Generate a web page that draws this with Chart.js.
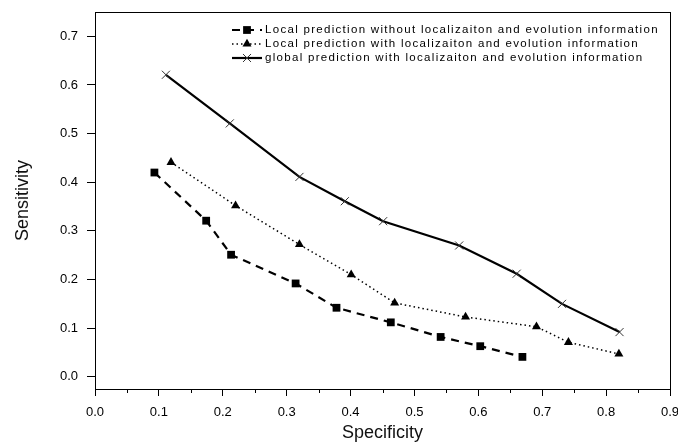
<!DOCTYPE html>
<html>
<head>
<meta charset="utf-8">
<script src="https://cdn.jsdelivr.net/npm/chart.js@4.4.1/dist/chart.umd.min.js"></script>
<style>
  html, body { margin: 0; padding: 0; background: #fff; }
  #wrap { width: 678px; height: 444px; }
</style>
</head>
<body>
<div id="wrap"><canvas id="myChart"></canvas></div>
<script>
  // tick values
  const xTicks = [0.0, 0.1, 0.2, 0.3, 0.4, 0.5, 0.6, 0.7, 0.8, 0.9];
  const xMinorTicks = [0.05, 0.15, 0.25, 0.35, 0.45, 0.55, 0.65, 0.75, 0.85];
  const yTicks = [0.0, 0.1, 0.2, 0.3, 0.4, 0.5, 0.6, 0.7];

  // Local prediction without localizaiton and evolution information
  const noLocX = [0.093, 0.174, 0.213, 0.314, 0.378, 0.463, 0.541, 0.603, 0.669];
  const noLocY = [0.420, 0.321, 0.251, 0.192, 0.142, 0.112, 0.082, 0.063, 0.041];

  // Local prediction with localizaiton and evolution information
  const locX = [0.119, 0.220, 0.320, 0.401, 0.469, 0.580, 0.691, 0.741, 0.820];
  const locY = [0.441, 0.352, 0.272, 0.210, 0.152, 0.123, 0.103, 0.071, 0.047];

  // global prediction with localizaiton and evolution information
  const globX = [0.111, 0.211, 0.320, 0.391, 0.451, 0.570, 0.660, 0.731, 0.821];
  const globY = [0.621, 0.521, 0.411, 0.361, 0.320, 0.270, 0.212, 0.150, 0.092];

  const labels = [
    'Local prediction without localizaiton and evolution information',
    'Local prediction with localizaiton and evolution information',
    'global prediction with localizaiton and evolution information'
  ];

  const pts = (xs, ys) => xs.map((x, i) => ({ x: x, y: ys[i] }));

  // frame + minor ticks + legend inside the plot
  const framePlugin = {
    id: 'frame',
    afterDraw(chart) {
      const c = chart.ctx;
      const a = chart.chartArea;
      const xs = chart.scales.x;
      c.save();
      c.strokeStyle = '#000';
      c.lineWidth = 1;
      c.strokeRect(a.left + 0.5, a.top + 0.5, a.right - a.left, a.bottom - a.top);
      c.beginPath();
      xMinorTicks.forEach(v => {
        const px = Math.round(xs.getPixelForValue(v)) + 0.5;
        c.moveTo(px, a.bottom);
        c.lineTo(px, a.bottom + 4);
      });
      c.stroke();

      // legend
      chart.data.datasets.forEach((ds, i) => {
        const y = 30 + i * 14;
        c.strokeStyle = ds.borderColor;
        c.lineWidth = ds.borderWidth;
        c.setLineDash(ds.borderDash || []);
        c.beginPath();
        c.moveTo(232, y);
        c.lineTo(262, y);
        c.stroke();
        c.setLineDash([]);
        c.fillStyle = ds.pointBackgroundColor;
        c.strokeStyle = ds.pointBorderColor;
        c.lineWidth = ds.pointBorderWidth;
        Chart.helpers.drawPoint(c, {
          pointStyle: ds.pointStyle, radius: ds.pointRadius, borderWidth: ds.pointBorderWidth, rotation: 0
        }, 247, y);
        c.fillStyle = '#000';
        c.font = '11.5px "Liberation Sans", Arial, sans-serif';
        c.letterSpacing = '1.3px';
        c.textBaseline = 'middle';
        c.fillText(ds.label, 265, y);
      });
      c.restore();
    }
  };

  new Chart(document.getElementById('myChart'), {
    type: 'line',
    data: {
      datasets: [
        {
          label: labels[0],
          data: pts(noLocX, noLocY),
          borderColor: '#000',
          borderWidth: 2.2,
          borderDash: [8, 6],
          pointStyle: 'rect',
          pointRadius: 5.5,
          pointBackgroundColor: '#000',
          pointBorderColor: '#000',
          pointBorderWidth: 0
        },
        {
          label: labels[1],
          data: pts(locX, locY),
          borderColor: '#000',
          borderWidth: 1.5,
          borderDash: [1.5, 3],
          pointStyle: 'triangle',
          pointRadius: 5.2,
          pointBackgroundColor: '#000',
          pointBorderColor: '#000',
          pointBorderWidth: 0
        },
        {
          label: labels[2],
          data: pts(globX, globY),
          borderColor: '#000',
          borderWidth: 2.2,
          pointStyle: 'crossRot',
          pointRadius: 5.7,
          pointBackgroundColor: '#333',
          pointBorderColor: '#333',
          pointBorderWidth: 1
        }
      ]
    },
    options: {
      responsive: true,
      maintainAspectRatio: false,
      animation: false,
      layout: { padding: { top: 12, right: 8, left: 0, bottom: 0 } },
      plugins: {
        legend: { display: false },
        tooltip: { enabled: false }
      },
      scales: {
        x: {
          type: 'linear',
          min: 0,
          max: 0.9,
          afterBuildTicks: s => { s.ticks = xTicks.map(v => ({ value: v })); },
          afterFit: s => { s.height = 55; s.paddingLeft = 0; s.paddingRight = 0; },
          grid: { drawOnChartArea: false, drawTicks: true, tickLength: 7, color: '#000' },
          border: { display: true, color: '#000', width: 1 },
          ticks: {
            color: '#000',
            padding: 9,
            maxRotation: 0,
            font: { family: '"Liberation Sans", Arial, sans-serif', size: 13 },
            callback: v => v.toFixed(1)
          },
          title: {
            display: true,
            text: 'Specificity',
            color: '#111',
            padding: { top: 0, bottom: 0 },
            font: { family: '"Liberation Sans", Arial, sans-serif', size: 18 }
          }
        },
        y: {
          min: -0.025,
          max: 0.75,
          afterBuildTicks: s => { s.ticks = yTicks.map(v => ({ value: v })); },
          afterFit: s => { s.width = 95; s.paddingTop = 0; s.paddingBottom = 0; },
          grid: { drawOnChartArea: false, drawTicks: true, tickLength: 8, color: '#000' },
          border: { display: true, color: '#000', width: 1 },
          ticks: {
            color: '#000',
            padding: 9,
            font: { family: '"Liberation Sans", Arial, sans-serif', size: 13 },
            callback: v => v.toFixed(1)
          },
          title: {
            display: true,
            text: 'Sensitivity',
            color: '#111',
            padding: { top: 12, bottom: 0 },
            font: { family: '"Liberation Sans", Arial, sans-serif', size: 18 }
          }
        }
      }
    },
    plugins: [framePlugin]
  });
</script>
</body>
</html>
